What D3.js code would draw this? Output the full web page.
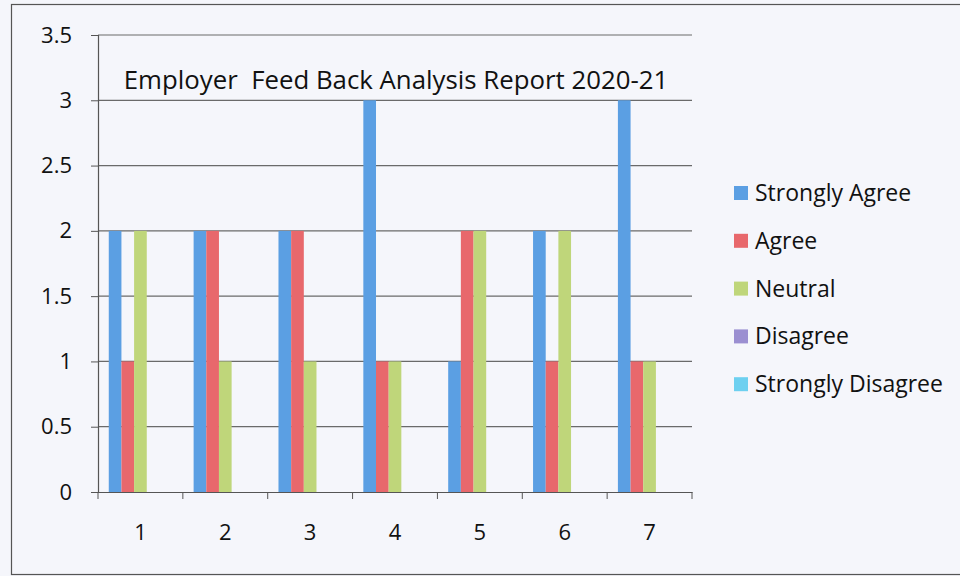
<!DOCTYPE html>
<html>
<head>
<meta charset="utf-8">
<script src="https://cdn.jsdelivr.net/npm/d3@7"></script>
<style>
  body { margin: 0; background: #f5f6fb; }
  text { font-family: "Open Sans", Lato, sans-serif; fill: #111; }
</style>
</head>
<body>
<div id="my_dataviz"></div>
<script>
const categories = ["1", "2", "3", "4", "5", "6", "7"]
const series_names = ["Strongly Agree", "Agree", "Neutral", "Disagree", "Strongly Disagree"]
const strongly_agree = [2, 2, 2, 3, 1, 2, 3]
const agree = [1, 2, 2, 1, 2, 1, 1]
const neutral = [2, 1, 1, 1, 2, 2, 1]
const disagree = [0, 0, 0, 0, 0, 0, 0]
const strongly_disagree = [0, 0, 0, 0, 0, 0, 0]
const y_ticks = [0, 0.5, 1, 1.5, 2, 2.5, 3, 3.5]
const series_colors = ["#5b9fe3", "#e8686c", "#bfd67a", "#9b8fd1", "#6dd0f0"]
const title = "Employer  Feed Back Analysis Report 2020-21"

const values = [strongly_agree, agree, neutral, disagree, strongly_disagree]
const rows = categories.map((c, i) => {
  let row = { cat: c }
  series_names.forEach((s, j) => { row[s] = values[j][i] })
  return row
})

const width = 960
const height = 576

const svg = d3.select("#my_dataviz")
  .append("svg")
  .attr("width", width)
  .attr("height", height)

// chart border
svg.append("rect")
  .attr("x", 11.5).attr("y", 4.5)
  .attr("width", 970).attr("height", 570)
  .style("fill", "#f5f6fb")
  .attr("stroke", "#555")
  .style("stroke-width", 1.2)

const x0 = d3.scaleBand().domain(categories).range([98, 692]).padding(0)
const x1 = d3.scaleBand().domain(series_names).range([0, x0.bandwidth()])
  .paddingInner(0).paddingOuter(0.85)
const y = d3.scaleLinear().domain([0, 3.5]).range([492, 35])

// gridlines
svg.append("g")
  .selectAll("line")
  .data(y_ticks.slice(1))
  .join("line")
  .attr("x1", 98).attr("x2", 692)
  .attr("y1", d => y(d)).attr("y2", d => y(d))
  .attr("stroke", "#6a6a6a")
  .style("stroke-width", 1.2)

// bars
svg.append("g")
  .selectAll("g")
  .data(rows)
  .join("g")
  .attr("transform", d => `translate(${x0(d.cat)},0)`)
  .selectAll("rect")
  .data(d => series_names.map(s => ({ key: s, value: d[s] })))
  .join("rect")
  .attr("x", d => x1(d.key))
  .attr("width", x1.bandwidth())
  .attr("y", d => y(d.value))
  .attr("height", d => y(0) - y(d.value))
  .style("fill", (d, i) => series_colors[i])

// y axis
const yAxis = svg.append("g")
  .attr("transform", "translate(98,0)")
  .call(d3.axisLeft(y).tickValues(y_ticks).tickSize(7).tickPadding(19)
    .tickFormat(d => d3.format("")(d)))
yAxis.select(".domain").attr("stroke", "#555").style("stroke-width", 1.2)
yAxis.selectAll(".tick line").attr("stroke", "#555")
yAxis.selectAll("text").style("font-size", "22px").style("fill", "#111")
  .style("font-family", "'Open Sans', sans-serif")

// x axis
const xAxis = svg.append("g")
  .attr("transform", "translate(0,492)")
  .call(d3.axisBottom(x0).tickSize(0).tickPadding(32))
xAxis.select(".domain").attr("stroke", "#555").style("stroke-width", 1.2)
xAxis.selectAll("text").style("font-size", "22px").style("fill", "#111")
  .style("font-family", "'Open Sans', sans-serif")

// x boundary ticks
const bounds = categories.map(c => x0(c)).concat([x0.range()[1]])
svg.append("g")
  .selectAll("line")
  .data(bounds)
  .join("line")
  .attr("x1", d => d).attr("x2", d => d)
  .attr("y1", 492).attr("y2", 499)
  .attr("stroke", "#555")

// title
svg.append("text")
  .attr("x", 396)
  .attr("y", 89)
  .style("text-anchor", "middle")
  .style("font-size", "25.8px")
  .style("white-space", "pre")
  .text(title)

// legend
const legend = svg.append("g")
  .selectAll("g")
  .data(series_names)
  .join("g")
  .attr("transform", (d, i) => `translate(734,${193 + i * 47.8})`)
legend.append("rect")
  .attr("x", 0).attr("y", -7)
  .attr("width", 14).attr("height", 14)
  .style("fill", (d, i) => series_colors[i])
legend.append("text")
  .attr("x", 21)
  .attr("y", 8)
  .style("font-size", "23px")
  .text(d => d)
</script>
</body>
</html>
